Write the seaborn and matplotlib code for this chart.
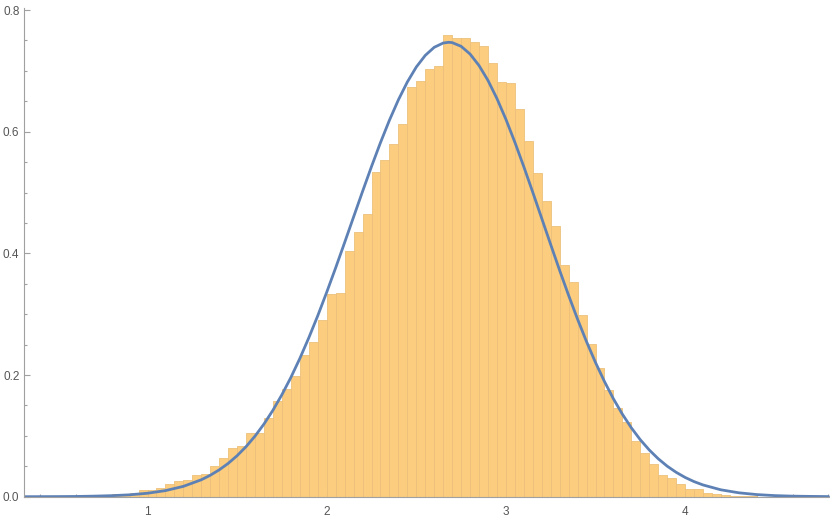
import numpy as np
import pandas as pd
import matplotlib
matplotlib.use("Agg")
import matplotlib.pyplot as plt
from matplotlib.ticker import MultipleLocator
import seaborn as sns

# ---------------- DATA ----------------
# histogram: left edge of each 0.05 wide bin and its density
bin_width = 0.05
bin_left = [0.70, 0.75, 0.80, 0.85, 0.90, 0.95, 1.00, 1.05, 1.10, 1.15,
            1.20, 1.25, 1.30, 1.35, 1.40, 1.45, 1.50, 1.55, 1.60, 1.65,
            1.70, 1.75, 1.80, 1.85, 1.90, 1.95, 2.00, 2.05, 2.10, 2.15,
            2.20, 2.25, 2.30, 2.35, 2.40, 2.45, 2.50, 2.55, 2.60, 2.65,
            2.70, 2.75, 2.80, 2.85, 2.90, 2.95, 3.00, 3.05, 3.10, 3.15,
            3.20, 3.25, 3.30, 3.35, 3.40, 3.45, 3.50, 3.55, 3.60, 3.65,
            3.70, 3.75, 3.80, 3.85, 3.90, 3.95, 4.00, 4.05, 4.10, 4.15,
            4.20, 4.25, 4.30, 4.35]
density = [0.0010, 0.0010, 0.0040, 0.0020, 0.0056, 0.0113, 0.0115, 0.0143, 0.0204, 0.0258,
           0.0275, 0.0352, 0.0373, 0.0505, 0.0636, 0.0796, 0.0838, 0.1052, 0.1047, 0.1289,
           0.1573, 0.1766, 0.1989, 0.2325, 0.2543, 0.2900, 0.3332, 0.3344, 0.4044, 0.4356,
           0.4642, 0.5338, 0.5535, 0.5793, 0.6122, 0.6730, 0.6834, 0.7028, 0.7085, 0.7590,
           0.7536, 0.7546, 0.7470, 0.7409, 0.7130, 0.6817, 0.6801, 0.6374, 0.5852, 0.5321,
           0.4861, 0.4455, 0.3809, 0.3530, 0.2987, 0.2510, 0.2121, 0.1759, 0.1450, 0.1228,
           0.0916, 0.0718, 0.0538, 0.0352, 0.0307, 0.0209, 0.0132, 0.0127, 0.0061, 0.0049,
           0.0028, 0.0012, 0.0008, 0.0004]

# fitted density curve (denser near the peak)
curve_x = [0.3, 0.4, 0.5, 0.6, 0.7, 0.8, 0.9, 1.0, 1.1, 1.2,
           1.3, 1.35, 1.4, 1.45, 1.5, 1.55, 1.6, 1.65, 1.7, 1.75,
           1.8, 1.85, 1.9, 1.95, 2.0, 2.05, 2.1, 2.15, 2.2, 2.25,
           2.3, 2.35, 2.4, 2.45, 2.5, 2.55, 2.6, 2.65, 2.68, 2.7,
           2.75, 2.8, 2.85, 2.9, 2.95, 3.0, 3.05, 3.1, 3.15, 3.2,
           3.25, 3.3, 3.35, 3.4, 3.45, 3.5, 3.55, 3.6, 3.65, 3.7,
           3.75, 3.8, 3.85, 3.9, 3.95, 4.0, 4.05, 4.1, 4.2, 4.3,
           4.4, 4.5, 4.6, 4.7, 4.8]
curve_y = [0.0000, 0.0001, 0.0002, 0.0004, 0.0009, 0.0017, 0.0031, 0.0057, 0.0100, 0.0170,
           0.0278, 0.0352, 0.0441, 0.0547, 0.0674, 0.0823, 0.0996, 0.1195, 0.1422, 0.1677,
           0.1960, 0.2272, 0.2612, 0.2975, 0.3361, 0.3763, 0.4178, 0.4599, 0.5018, 0.5428,
           0.5821, 0.6189, 0.6524, 0.6818, 0.7064, 0.7255, 0.7388, 0.7458, 0.7470, 0.7465,
           0.7404, 0.7277, 0.7088, 0.6843, 0.6545, 0.6204, 0.5827, 0.5424, 0.5004, 0.4574,
           0.4144, 0.3719, 0.3309, 0.2917, 0.2548, 0.2206, 0.1893, 0.1609, 0.1356, 0.1132,
           0.0936, 0.0768, 0.0624, 0.0502, 0.0401, 0.0317, 0.0248, 0.0193, 0.0113, 0.0064,
           0.0035, 0.0018, 0.0009, 0.0005, 0.0002]

# ---------------- STYLE ----------------
sns.set_style("ticks")
plt.rcParams["font.family"] = ["Liberation Sans", "DejaVu Sans"]
AXIS_GRAY = "#a0a0a0"
LABEL_GRAY = "#555555"

hist_df = pd.DataFrame({"x": [b + bin_width / 2 for b in bin_left], "w": density})
curve_df = pd.DataFrame({"x": curve_x, "y": curve_y})

# ---------------- PLOT ----------------
fig = plt.figure(figsize=(8.30, 5.23), dpi=100)
ax = fig.add_axes([24.3 / 830, 26.3 / 523, 805.7 / 830, 488.4 / 523])

sns.histplot(data=hist_df, x="x", weights="w", binwidth=bin_width,
             binrange=(bin_left[0], bin_left[-1] + bin_width), stat="count",
             color="#fccd7e", alpha=1.0, edgecolor="#ecc07a", linewidth=0.6, ax=ax)
sns.lineplot(data=curve_df, x="x", y="y", color="#5e81b5", linewidth=2.0, ax=ax)

ax.set_xlim(0.3125, 4.8085)
ax.set_ylim(0, 0.8029)
ax.set_xlabel("")
ax.set_ylabel("")

ax.xaxis.set_major_locator(MultipleLocator(1))
ax.xaxis.set_minor_locator(MultipleLocator(0.2))
ax.yaxis.set_major_locator(MultipleLocator(0.2))
ax.yaxis.set_minor_locator(MultipleLocator(0.05))
ax.yaxis.set_major_formatter(plt.FuncFormatter(lambda v, p: f"{v:.1f}"))

for side in ["top", "right"]:
    ax.spines[side].set_visible(False)
for side in ["left", "bottom"]:
    ax.spines[side].set_color(AXIS_GRAY)
    ax.spines[side].set_linewidth(0.8)

ax.tick_params(which="both", direction="in", color=AXIS_GRAY, width=0.8,
               labelcolor=LABEL_GRAY, labelsize=8.5)
ax.tick_params(which="major", length=4.3)
ax.tick_params(which="minor", length=2.2)
ax.tick_params(axis="y", pad=3.5)
ax.tick_params(axis="x", pad=7)

fig.savefig("out.png", dpi=100)
